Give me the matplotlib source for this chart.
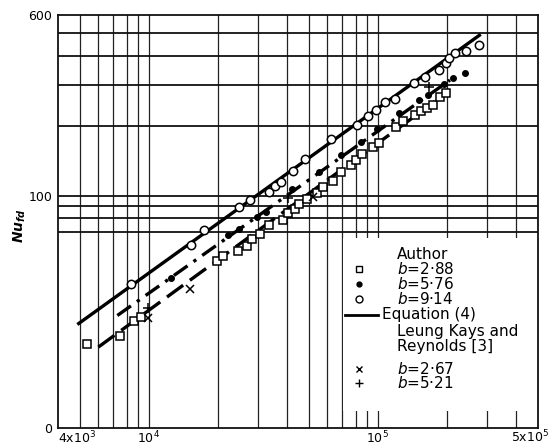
import matplotlib
matplotlib.use('Agg')
import matplotlib.pyplot as plt
from matplotlib.patches import Rectangle

plt.rcParams['font.family'] = 'DejaVu Sans'
plt.rcParams['mathtext.fontset'] = 'custom'
plt.rcParams['mathtext.it'] = 'DejaVu Sans:italic'
plt.rcParams['mathtext.bf'] = 'DejaVu Sans:italic:bold'
plt.rcParams['mathtext.rm'] = 'DejaVu Sans'

# Author, b = 2.88 (open squares)
re_sq = [5356, 7461, 8597, 9199, 19790, 21150, 24460, 26700, 28220, 30500,
         33380, 38420, 40720, 43270, 45400, 49060, 54100, 57630, 63410, 68910,
         75980, 80300, 85030, 95560, 100700, 120100, 129200, 144600, 154400,
         163500, 173900, 186800, 198500]
nu_sq = [23.1, 24.9, 28.9, 30.0, 52.6, 54.9, 58.1, 60.9, 65.4, 68.3,
         75.0, 78.5, 84.1, 87.5, 91.9, 96.4, 102.6, 108.9, 116.1, 126.7,
         135.0, 142.3, 151.1, 162.3, 169.3, 198.5, 209.2, 223.1, 231.4,
         237.7, 245.6, 265.9, 278.1]

# Author, b = 5.76 (filled dots)
re_dot = [12500, 22230, 24640, 29770, 32490, 42200, 55360, 68710, 84420,
          98670, 123700, 151800, 165700, 193600, 213500, 239200]
nu_dot = [44.4, 67.6, 72.0, 81.1, 85.2, 107.0, 126.3, 149.5, 170.7,
          193.6, 226.2, 258.1, 271.3, 302.6, 321.1, 339.2]

# Author, b = 9.14 (open circles)
re_circ = [8357, 15230, 17330, 24690, 27750, 33310, 35630, 37770, 42740,
           48320, 62140, 80880, 90330, 98200, 107500, 118900, 143400, 160800,
           185400, 197500, 204600, 216700, 242300, 277500]
nu_circ = [41.6, 61.5, 71.4, 89.2, 95.7, 103.9, 109.6, 115.0, 127.6,
           143.3, 176.2, 202.1, 220.3, 233.0, 253.1, 260.7, 305.6, 324.3,
           347.6, 372.7, 391.7, 410.4, 420.7, 445.6]

# Leung, Kays and Reynolds
re_lkr1 = [9948, 15120, 52120]      # b = 2.67
nu_lkr1 = [29.9, 39.8, 99.1]
re_lkr2 = [9948, 40650, 167000]     # b = 5.21
nu_lkr2 = [32.9, 98.1, 294.5]

# Equation (4) lines (end points)
re_eq_914 = [4873, 281400]
nu_eq_914 = [27.9, 495.5]
re_eq_576 = [7285, 206600]
nu_eq_576 = [30.5, 314.8]
re_eq_288 = [6018, 203100]
nu_eq_288 = [22.3, 280.3]

x_grid = [5e3, 6e3, 7e3, 8e3, 9e3, 1e4, 2e4, 3e4, 4e4, 5e4, 6e4, 7e4, 8e4,
          9e4, 1e5, 2e5, 3e5, 4e5]
y_grid = [70, 80, 90, 100, 200, 300, 400, 500]

x_ticks = [4e3, 1e4, 1e5]
x_labels = ['4x10$^3$', '10$^4$', '10$^5$']
x_last_label = '5x10$^5$'
y_ticks = [10, 100, 600]
y_labels = ['0', '100', '600']

fig = plt.figure(figsize=(5.51, 4.48), dpi=100)
ax = fig.add_axes([57.7 / 551, 1 - 428 / 448, 480.2 / 551, 413 / 448])
ax.set_xscale('log')
ax.set_yscale('log')
ax.set_xlim(4e3, 5e5)
ax.set_ylim(10, 600)

for xv in x_grid:
    ax.axvline(xv, color='#222222', lw=0.9, zorder=1)
for yv in y_grid:
    ax.axhline(yv, color='#111111', lw=1.3, zorder=1)

ax.set_xticks(x_ticks)
ax.set_xticklabels(x_labels)
ax.set_yticks(y_ticks)
ax.set_yticklabels(y_labels)
ax.minorticks_off()
ax.tick_params(length=0, labelsize=9)
ax.tick_params(axis='x', pad=1)
ax.tick_params(axis='y', pad=4)
ax.get_xticklabels()[0].set_ha('left')
# last x label sits flush with the right edge of the figure
fig.text(549 / 551, 1 - 429 / 448, x_last_label, fontsize=9, ha='right', va='top')
for s in ax.spines.values():
    s.set_linewidth(1.3)
    s.set_color('#111111')

# correlation lines
ax.plot(re_eq_914, nu_eq_914, color='black', lw=2.4, solid_capstyle='butt', zorder=3)
ax.plot(re_eq_576, nu_eq_576, color='black', lw=2.4, ls=(0, (5, 2.2, 1, 2.2)), zorder=3)
ax.plot(re_eq_288, nu_eq_288, color='black', lw=2.4, ls=(0, (6, 2.5)), zorder=3)

# data points
ax.plot(re_sq, nu_sq, 's', ms=5.5, mfc='white', mec='black', mew=1.1, zorder=4)
ax.plot(re_dot, nu_dot, 'o', ms=4, mfc='black', mec='black', zorder=4)
ax.plot(re_circ, nu_circ, 'o', ms=6, mfc='white', mec='black', mew=1.1, zorder=4)
ax.plot(re_lkr1, nu_lkr1, 'x', ms=5.5, color='black', mew=1.1, zorder=4)
ax.plot(re_lkr2, nu_lkr2, '+', ms=7, color='black', mew=1.1, zorder=4)

# legend drawn by hand
tr = ax.transAxes
ax.add_patch(Rectangle((0.594, 0.04), 0.404, 0.42, transform=tr,
                       facecolor='white', edgecolor='none', zorder=5))
fs = 11
mx, tx = 0.628, 0.707
rows = [0.421, 0.385, 0.349, 0.313, 0.274, 0.233, 0.198, 0.144, 0.108]
ax.text(tx, rows[0], 'Author', transform=tr, fontsize=fs, va='center', zorder=6)
ax.plot([mx], [rows[1]], 's', ms=5, mfc='white', mec='black', mew=1, transform=tr, zorder=6)
ax.text(tx, rows[1], '$b$=2·88', transform=tr, fontsize=fs, va='center', zorder=6)
ax.plot([mx], [rows[2]], 'o', ms=3.5, mfc='black', mec='black', transform=tr, zorder=6)
ax.text(tx, rows[2], '$b$=5·76', transform=tr, fontsize=fs, va='center', zorder=6)
ax.plot([mx], [rows[3]], 'o', ms=5, mfc='white', mec='black', mew=1, transform=tr, zorder=6)
ax.text(tx, rows[3], '$b$=9·14', transform=tr, fontsize=fs, va='center', zorder=6)
ax.plot([0.598, 0.668], [rows[4], rows[4]], color='black', lw=2, transform=tr, zorder=6)
ax.text(0.676, rows[4], 'Equation (4)', transform=tr, fontsize=fs, va='center', zorder=6)
ax.text(tx, rows[5], 'Leung Kays and', transform=tr, fontsize=fs, va='center', zorder=6)
ax.text(tx, rows[6], 'Reynolds [3]', transform=tr, fontsize=fs, va='center', zorder=6)
ax.plot([mx], [rows[7]], 'x', ms=4.5, color='black', mew=1, transform=tr, zorder=6)
ax.text(tx, rows[7], '$b$=2·67', transform=tr, fontsize=fs, va='center', zorder=6)
ax.plot([mx], [rows[8]], '+', ms=5.5, color='black', mew=1, transform=tr, zorder=6)
ax.text(tx, rows[8], '$b$=5·21', transform=tr, fontsize=fs, va='center', zorder=6)

ax.text(-0.078, 0.49, r'$\mathbf{Nu}_{\mathbf{fd}}$', transform=tr, rotation=90,
        fontsize=10, ha='center', va='center')

fig.savefig('out.png', dpi=100)
